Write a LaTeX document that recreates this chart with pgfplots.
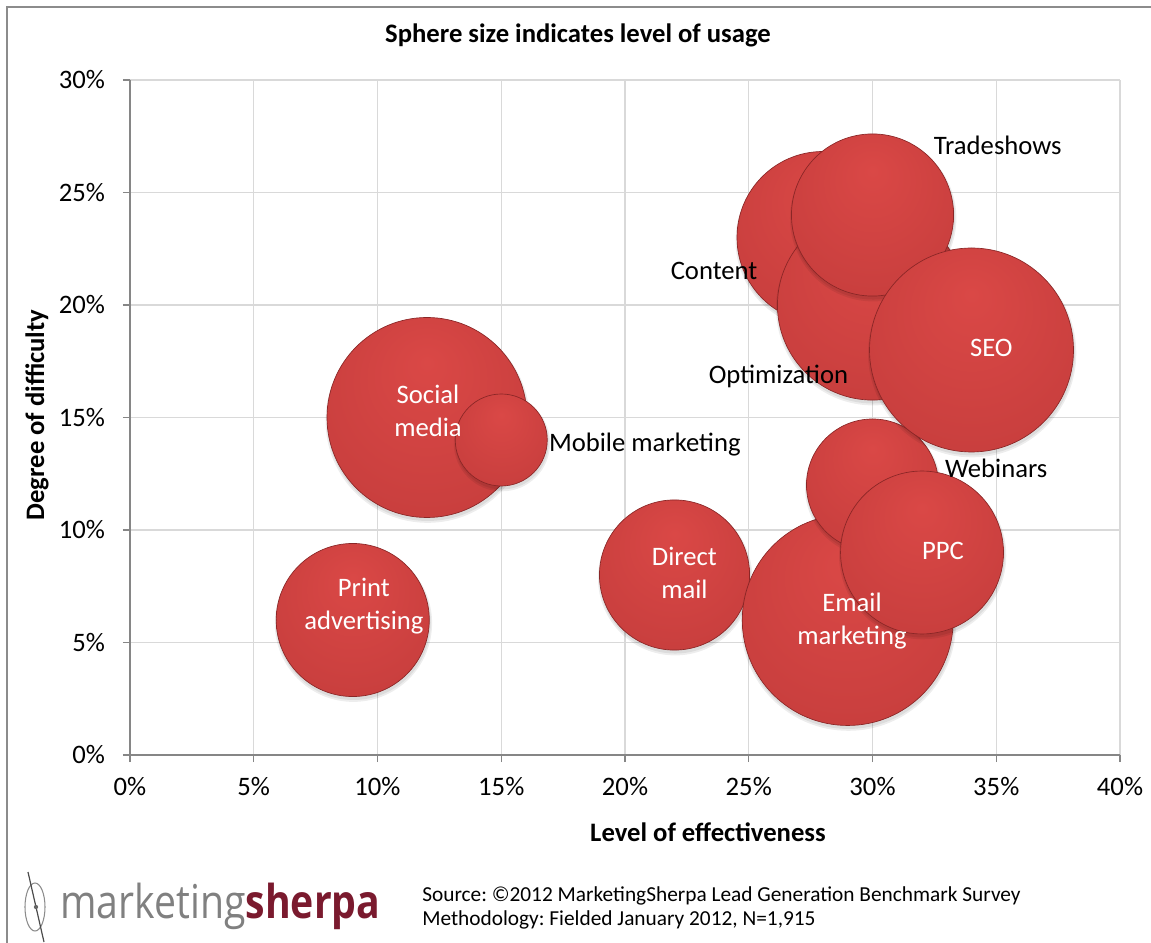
\documentclass[border=0pt]{standalone}
\usepackage{fontspec}
\setmainfont{Carlito}
\newfontfamily\logofont[FakeStretch=0.84]{Open Sans}
\usepackage{pgfplots}
\usepackage{pgfplotstable}
\pgfplotsset{compat=1.18}
\frenchspacing

\definecolor{gridgray}{HTML}{D9D9D9}
\definecolor{axisgray}{HTML}{868686}
\definecolor{framegray}{HTML}{8C8C8C}
\definecolor{bubTop}{HTML}{DA4846}
\definecolor{bubMid}{HTML}{C93F3E}
\definecolor{bubLow}{HTML}{B23636}
\definecolor{bubRim}{HTML}{8A2626}
\definecolor{sherpared}{HTML}{7A1A2E}

% 3D-ish sphere: light centre pushed up, darker rim
\pgfdeclareradialshading{bubshade}{\pgfpoint{0bp}{14bp}}{%
  color(0bp)=(bubTop); color(30bp)=(bubMid); color(46bp)=(bubLow);
  color(48.5bp)=(bubRim); color(50bp)=(bubRim)}

\pgfdeclareplotmark{bubble}{%
  \pgfscope
    \pgfsetfillcolor{black}%
    \pgfsetfillopacity{0.07}%
    \pgfmathsetlengthmacro\shr{\pgfplotmarksize+1.6pt}%
    \pgfpathcircle{\pgfpoint{0.5pt}{-2.4pt}}{\shr}\pgfusepath{fill}%
    \pgfmathsetlengthmacro\shr{\pgfplotmarksize+0.6pt}%
    \pgfpathcircle{\pgfpoint{0.5pt}{-2pt}}{\shr}\pgfusepath{fill}%
  \endpgfscope
  \pgfpathcircle{\pgfpointorigin}{\pgfplotmarksize}%
  \pgfshadepath{bubshade}{0}%
  \pgfsetstrokecolor{bubRim}\pgfsetlinewidth{0.5pt}%
  \pgfusepath{stroke}%
}

% x = effectiveness (%), y = difficulty (%), r = bubble radius (pt)
\pgfplotstableread{
x  y  r
9  6  57.4
12 15 75.0
15 14 34.5
22 8  56.3
29 6  79.1
30 12 49.5
32 9  61.1
28 23 64.5
30 20 71.3
30 24 60.8
34 18 76.5
}\bubbles

\begin{document}
\begin{tikzpicture}
  \begin{axis}[
      name=ax, at={(0,0)}, anchor=south west,
      set layers,
      scale only axis, width=742.5pt, height=506.25pt,
      xmin=0, xmax=40, ymin=0, ymax=30,
      xtick={0,5,...,40}, ytick={0,5,...,30},
      xticklabel={\pgfmathprintnumber{\tick}\%},
      yticklabel={\pgfmathprintnumber{\tick}\%},
      /pgf/number format/assume math mode=true,
      axis x line*=bottom, axis y line*=left,
      axis line style={axisgray, line width=0.9pt},
      grid=major, major grid style={gridgray, line width=0.8pt},
      tick align=outside, major tick length=5.25pt,
      tick style={axisgray, line width=0.9pt},
      tick label style={font=\fontsize{20}{24}\selectfont},
      xticklabel style={yshift=-8pt},
      yticklabel style={xshift=-10pt},
      clip=false,
    ]
    \addplot[
      scatter, only marks, mark=bubble,
      visualization depends on={\thisrow{r} \as \rad},
      scatter/@pre marker code/.append style={/tikz/mark size=\rad},
    ] table[x=x, y=y] {\bubbles};

    \begin{pgfonlayer}{axis foreground}
    \begin{scope}[font=\fontsize{20}{24.75}\selectfont]
      \node[white, align=center] at (axis cs:9.45,6.62) {Print\\advertising};
      \node[white, align=center] at (axis cs:12.04,15.3) {Social\\media};
      \node at (axis cs:20.8,13.8) {Mobile marketing};
      \node[white, align=center] at (axis cs:22.4,8.09) {Direct\\mail};
      \node[white, align=center] at (axis cs:29.17,5.96) {Email\\marketing};
      \node at (axis cs:35.0,12.76) {Webinars};
      \node[white] at (axis cs:32.85,9.07) {PPC};
      \node at (axis cs:23.6,21.5) {Content};
      \node at (axis cs:26.2,16.84) {Optimization};
      \node at (axis cs:35.06,27.1) {Tradeshows};
      \node[white] at (axis cs:34.8,18.1) {SEO};
    \end{scope}
    \end{pgfonlayer}
  \end{axis}

  % title and axis titles
  \node[font=\bfseries\fontsize{20}{24}\selectfont] at (336pt,540pt) {Sphere size indicates level of usage};
  \node[font=\bfseries\fontsize{20}{24}\selectfont] at (433.5pt,-57.75pt) {Level of effectiveness};
  \node[font=\bfseries\fontsize{20}{24}\selectfont, rotate=90] at (-69.75pt,255pt) {Degree of difficulty};

  % chart frame (left and top edges are visible)
  \draw[framegray, line width=1pt] (-92.25pt,-141pt) -- (-92.25pt,561pt) -- (767pt,561pt);

  % logo
  \draw[framegray, line width=0.8pt] (-71.25pt,-114pt) ellipse (7.5pt and 18pt);
  \draw[black!70, line width=0.9pt] (-76.5pt,-87.75pt) -- (-64.5pt,-140.25pt);
  \fill[black!60] (-70.5pt,-114pt) circle (1.6pt);
  \node[anchor=base west, inner sep=0pt, font=\logofont\fontsize{35}{40}\selectfont]
    at (-52.5pt,-122.25pt) {\textcolor{black!50}{marketing}\textcolor{sherpared}{\bfseries sherpa}};

  % source
  \node[anchor=base west, inner sep=0pt, font=\fontsize{16}{19}\selectfont]
    at (219pt,-109.5pt) {Source: ©2012 MarketingSherpa Lead Generation Benchmark Survey};
  \node[anchor=base west, inner sep=0pt, font=\fontsize{16}{19}\selectfont]
    at (219pt,-127.5pt) {Methodology: Fielded January 2012, N=1,915};

  \pgfresetboundingbox
  \useasboundingbox (-97.5pt,-140.25pt) rectangle (765.75pt,566.25pt);
\end{tikzpicture}
\end{document}
